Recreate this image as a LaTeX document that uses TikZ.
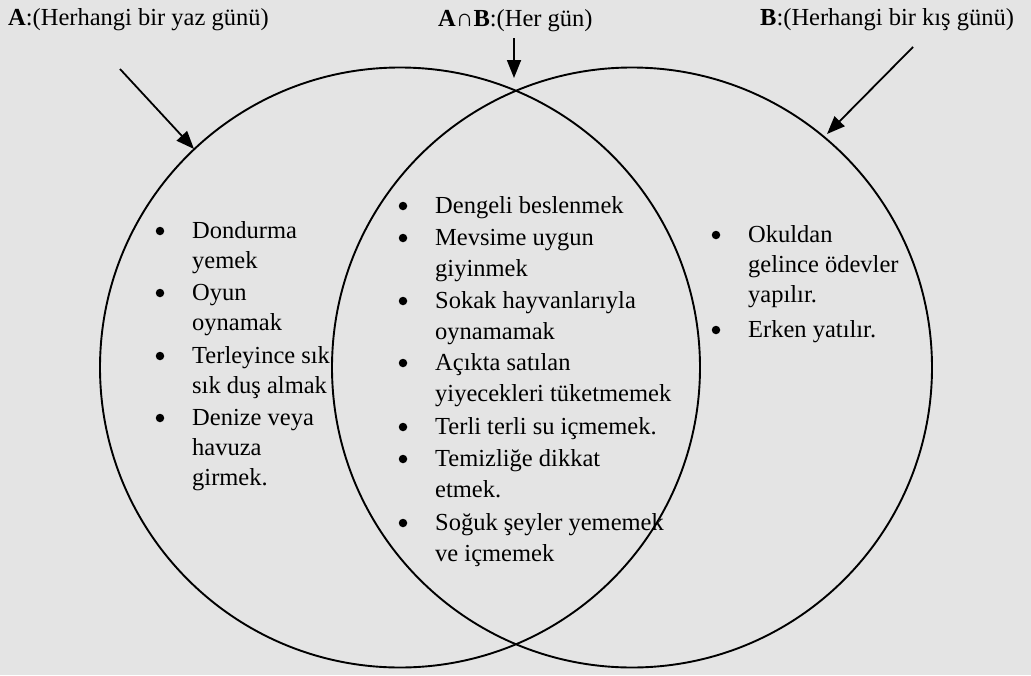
\documentclass[tikz,border=0pt]{standalone}
\usepackage{fontspec}
\setmainfont{Liberation Serif}
\usetikzlibrary{arrows.meta}
\definecolor{bgc}{RGB}{228,228,228}
\begin{document}
\begin{tikzpicture}[x=1pt,y=-1pt,
  venn/.style={draw=black,line width=1.9pt},
  ptr/.style={draw=black,line width=1.8pt,-{Triangle[length=18pt,width=14pt]}},
  title/.style={anchor=base west,inner sep=0pt,font=\fontsize{24.5}{29}\selectfont},
  itm/.style={anchor=base west,inner sep=0pt,align=left,font=\fontsize{24.5}{30}\selectfont},
  itmc/.style={anchor=base west,inner sep=0pt,align=left,font=\fontsize{24.5}{31.5}\selectfont},
  bul/.style={circle,fill=black,inner sep=0pt,minimum size=8.5pt}]
\fill[bgc] (0,0) rectangle (1031,675);
\useasboundingbox (0,0) rectangle (1031,675);
% circles
\draw[venn] (400,367.5) circle[radius=300pt];
\draw[venn] (632,367.5) circle[radius=300pt];
% titles
\node[title] (tA) at (8,25) {\textbf{A}:(Herhangi bir yaz günü)};
\node[title] (tAB) at (438,26) {\textbf{A∩B}:(Her gün)};
\node[title] (tB) at (760,25) {\textbf{B}:(Herhangi bir kış günü)};
% arrow coordinates
\coordinate (a1) at (120,69);
\coordinate (a2) at (194,149);
\coordinate (c1) at (514,38);
\coordinate (c2) at (514,78);
\coordinate (b1) at (913,47);
\coordinate (b2) at (827,134);
\draw[ptr] (a1) -- (a2);
\draw[ptr] (c1) -- (c2);
\draw[ptr] (b1) -- (b2);
% left column (node anchor = baseline of last line)
\node[bul] (lb1) at (160,231) {};
\node[itm] (l1) at (192,268) {Dondurma\\yemek};
\node[bul] (lb2) at (160,293) {};
\node[itm] (l2) at (192,330) {Oyun\\oynamak};
\node[bul] (lb3) at (160,356) {};
\node[itm] (l3) at (192,393) {Terleyince sık\\sık duş almak};
\node[bul] (lb4) at (160,418) {};
\node[itm] (l4) at (192,485) {Denize veya\\havuza\\girmek.};
% center column
\node[bul] (cb1) at (403,206) {};
\node[itmc] (c1t) at (435,213) {Dengeli beslenmek};
\node[bul] (cb2) at (403,238) {};
\node[itmc] (c2t) at (435,276.5) {Mevsime uygun\\giyinmek};
\node[bul] (cb3) at (403,301) {};
\node[itmc] (c3t) at (435,339.5) {Sokak hayvanlarıyla\\oynamamak};
\node[bul] (cb4) at (403,363) {};
\node[itmc] (c4t) at (435,401.5) {Açıkta satılan\\yiyecekleri tüketmemek};
\node[bul] (cb5) at (403,427) {};
\node[itmc] (c5t) at (435,434) {Terli terli su içmemek.};
\node[bul] (cb6) at (403,459) {};
\node[itmc] (c6t) at (435,497.5) {Temizliğe dikkat\\etmek.};
\node[bul] (cb7) at (403,523) {};
\node[itmc] (c7t) at (435,561.5) {Soğuk şeyler yememek\\ve içmemek};
% right column
\node[bul] (rb1) at (716,235) {};
\node[itm] (r1) at (748,302) {Okuldan\\gelince ödevler\\yapılır.};
\node[bul] (rb2) at (716,330) {};
\node[itm] (r2) at (748,337) {Erken yatılır.};
\end{tikzpicture}
\end{document}
